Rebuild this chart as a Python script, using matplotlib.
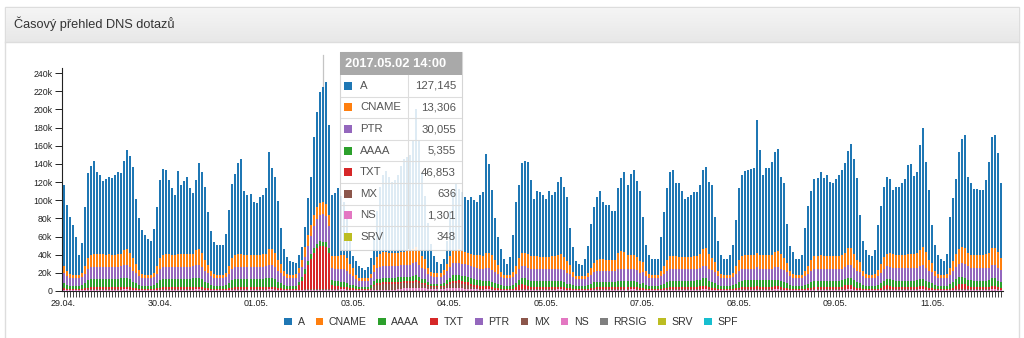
import numpy as np
import pandas as pd
import matplotlib
matplotlib.use("Agg")
import matplotlib.pyplot as plt
from matplotlib.patches import Rectangle, Patch
from matplotlib.lines import Line2D

plt.rcParams['font.family'] = ['Liberation Sans', 'DejaVu Sans']

# Hourly DNS query counts (thousands), 29.04.2017 00:00 .. 11.05.2017 23:00, one row per day
START = "2017-04-29 00:00"

A_QUERIES = [
    89.0, 72.9, 62.0, 55.0, 42.0, 22.0, 32.9, 65.0, 94.2, 97.9, 101.8, 89.8, 87.8, 80.8, 83.8, 84.8, 84.8, 88.8, 90.8, 88.8, 98.2, 109.2, 107.1, 99.9,
    71.0, 56.9, 48.0, 44.0, 39.0, 37.0, 47.9, 66.0, 86.2, 93.9, 92.8, 81.8, 73.8, 66.8, 91.8, 76.8, 80.8, 84.8, 71.8, 66.8, 77.2, 95.2, 89.1, 80.9,
    58.0, 43.9, 35.0, 33.0, 33.0, 33.0, 42.9, 62.0, 82.2, 88.9, 99.8, 103.8, 70.8, 66.8, 67.8, 58.8, 57.8, 63.8, 65.8, 71.8, 107.2, 89.2, 83.1, 64.9,
    39.0, 23.9, 18.0, 15.0, 14.0, 12.5, 14.9, 13.5, 21.2, 39.9, 51.8, 85.8, 104.8, 122.3, 127.145, 134.3, 98.8, 67.8, 69.8, 74.8, 65.7, 58.7, 44.1, 29.9,
    13.0, 15.9, 13.7, 10.7, 8.7, 11.5, 17.2, 29.4, 50.7, 74.4, 85.4, 89.4, 84.4, 78.4, 80.4, 86.1, 95.6, 102.1, 104.1, 106.1, 118.6, 151.6, 120.2, 91.7,
    70.2, 49.3, 30.8, 18.3, 12.3, 10.3, 12.3, 25.2, 49.2, 65.6, 72.6, 66.1, 65.1, 60.6, 58.6, 62.8, 60.1, 58.8, 66.4, 70.6, 109.6, 97.7, 71.6, 46.4,
    30.0, 24.9, 17.0, 12.0, 19.0, 41.5, 70.9, 80.5, 99.2, 100.9, 101.8, 83.8, 62.8, 71.8, 71.8, 68.8, 63.8, 72.8, 67.8, 70.8, 80.7, 84.7, 77.1, 69.9,
    40.0, 26.9, 16.0, 14.0, 13.0, 18.0, 29.9, 49.0, 62.2, 68.9, 74.8, 62.8, 60.8, 60.8, 53.8, 53.8, 70.8, 79.8, 87.8, 77.8, 89.7, 93.7, 84.1, 76.9,
    49.0, 28.9, 21.0, 17.0, 17.0, 17.0, 37.9, 59.0, 79.2, 92.9, 94.8, 80.8, 81.8, 72.8, 63.8, 66.8, 68.8, 70.8, 70.3, 76.8, 87.2, 90.2, 79.6, 80.4,
    49.0, 32.9, 21.0, 17.0, 17.0, 22.0, 30.9, 51.0, 79.2, 89.9, 92.3, 93.3, 94.3, 95.3, 145.8, 115.3, 88.3, 95.3, 95.3, 102.3, 109.7, 111.7, 84.6, 82.4,
    43.0, 27.9, 24.0, 17.0, 17.0, 22.0, 46.9, 66.0, 76.2, 84.9, 85.8, 91.8, 85.8, 89.8, 81.8, 80.8, 84.8, 89.8, 93.3, 98.8, 107.2, 114.2, 104.1, 89.4,
    52.0, 32.9, 26.0, 22.0, 20.0, 26.0, 49.4, 64.5, 77.7, 83.9, 81.3, 70.3, 74.8, 75.8, 79.8, 83.8, 98.8, 99.8, 86.8, 89.3, 115.7, 131.7, 99.6, 76.4,
    42.0, 28.9, 21.0, 17.0, 15.0, 22.0, 56.4, 69.5, 82.2, 106.9, 118.8, 124.8, 82.8, 79.3, 72.8, 72.8, 71.8, 71.8, 81.8, 100.3, 123.2, 124.2, 109.6, 82.4,
]

CNAME_QUERIES = [
    8, 6, 5, 4, 4, 4, 5, 8, 12, 14, 15, 15, 14, 14, 13, 14, 13, 13, 14, 14, 16, 17, 16, 14,
    10, 7, 5, 4, 4, 4, 5, 8, 12, 14, 14, 14, 13, 13, 14, 14, 14, 14, 15, 14, 16, 17, 16, 12,
    9, 6, 5, 4, 4, 4, 5, 8, 12, 14, 15, 15, 13, 13, 13, 13, 13, 13, 14, 14, 17, 17, 16, 12,
    10, 6, 5, 4, 4, 4, 5, 8, 11, 12, 13, 13, 13, 13, 13.306, 13, 13, 13, 14, 14, 15, 15, 14, 11,
    8, 4, 3, 3, 3, 3, 4, 8, 12, 14, 15, 15, 14, 14, 14, 14, 14, 14, 15, 15, 16, 17, 16, 13,
    11, 7, 5, 4, 4, 4, 5, 8, 12, 14, 15, 15, 14, 14, 13, 14, 14, 14, 15, 14, 16, 17, 16, 13,
    10, 6, 4, 4, 4, 5, 8, 12, 14, 15, 15, 14, 14, 14, 13, 13, 13, 13, 14, 14, 15, 16, 15, 13,
    10, 6, 4, 3, 3, 4, 5, 7, 10, 12, 13, 13, 12, 12, 12, 12, 18, 20, 19, 15, 15, 15, 14, 13,
    11, 6, 5, 4, 4, 4, 6, 9, 12, 14, 14, 14, 13, 13, 13, 13, 13, 14, 14, 15, 18, 19, 16, 14,
    11, 6, 5, 4, 4, 4, 5, 8, 12, 14, 15, 15, 15, 15, 16, 15, 15, 15, 15, 15, 17, 18, 16, 14,
    10, 6, 5, 4, 4, 4, 6, 9, 12, 14, 14, 15, 14, 14, 14, 14, 14, 14, 15, 16, 18, 19, 16, 13,
    11, 6, 5, 4, 4, 5, 7, 10, 13, 14, 15, 15, 14, 14, 14, 14, 15, 15, 15, 16, 18, 20, 17, 13,
    10, 6, 5, 4, 4, 5, 8, 11, 14, 16, 17, 17, 15, 14, 14, 14, 14, 14, 15, 16, 18, 19, 17, 14,
]

PTR_QUERIES = [
    11, 10, 9, 9, 9, 9, 9, 10, 12, 13, 13, 13, 13, 13, 13, 13, 13, 13, 13, 13, 14, 14, 13, 12,
    11, 10, 9, 9, 9, 9, 9, 10, 12, 13, 13, 13, 13, 13, 13, 13, 13, 13, 13, 13, 14, 14, 13, 12,
    11, 10, 9, 9, 9, 9, 9, 10, 12, 13, 13, 13, 13, 13, 13, 13, 13, 13, 13, 13, 14, 14, 13, 12,
    11, 10, 9, 9, 9, 9, 10, 11, 14, 17, 20, 24, 27, 29, 30.055, 29, 24, 13, 13, 13, 14, 14, 13, 12,
    10, 8, 7, 7, 7, 7, 8, 10, 12, 13, 13, 13, 13, 13, 13, 13, 13, 13, 13, 13, 14, 14, 13, 12,
    11, 9, 8, 8, 8, 8, 9, 10, 12, 13, 13, 13, 13, 13, 13, 13, 13, 13, 13, 13, 14, 14, 13, 12,
    11, 9, 9, 9, 9, 9, 10, 12, 13, 13, 13, 13, 13, 13, 13, 13, 13, 13, 13, 13, 13, 13, 13, 12,
    11, 9, 8, 8, 8, 8, 9, 10, 11, 12, 12, 12, 12, 12, 12, 12, 13, 13, 13, 13, 13, 13, 13, 12,
    12, 10, 9, 9, 9, 9, 10, 11, 12, 13, 13, 13, 13, 13, 13, 13, 13, 13, 13, 13, 14, 14, 13, 13,
    12, 10, 9, 9, 9, 9, 9, 11, 12, 13, 13, 13, 13, 13, 14, 13, 13, 13, 13, 13, 14, 14, 13, 13,
    12, 10, 9, 9, 9, 9, 10, 11, 12, 13, 13, 13, 13, 13, 13, 13, 13, 13, 13, 13, 14, 14, 13, 12,
    12, 10, 9, 9, 9, 9, 10, 11, 13, 14, 14, 14, 14, 14, 14, 14, 14, 14, 14, 14, 14, 15, 14, 12,
    12, 10, 9, 9, 9, 9, 10, 12, 14, 15, 16, 16, 15, 14, 14, 14, 14, 14, 14, 14, 15, 15, 14, 13,
]

AAAA_QUERIES = [
    6, 4, 3, 3, 3, 3, 4, 6, 8, 9, 9, 9, 9, 9, 9, 9, 9, 9, 9, 10, 10, 10, 9, 7,
    6, 4, 3, 3, 3, 3, 4, 6, 8, 9, 9, 9, 9, 9, 9, 9, 9, 9, 9, 10, 10, 10, 9, 7,
    6, 4, 3, 3, 3, 3, 4, 6, 8, 9, 9, 9, 9, 9, 9, 9, 9, 9, 9, 10, 10, 10, 9, 7,
    6, 4, 3, 3, 3, 3, 4, 5, 5, 5, 5, 5, 5, 5.5, 5.355, 5.5, 5, 6, 6, 6, 6, 6, 5, 4,
    4, 3, 2.5, 2.5, 2.5, 2.5, 3, 4, 5, 5, 5, 5, 5, 5, 5, 5, 5, 5, 5, 5, 5, 5, 5, 4,
    4, 3, 2.5, 2.5, 2.5, 2.5, 3, 4, 5, 6, 6, 6, 6, 6, 6, 6, 6, 6, 6, 6, 6, 6, 6, 5,
    5, 4, 3, 3, 3, 4, 5, 6, 7, 7, 7, 7, 7, 7, 7, 7, 7, 7, 7, 7, 7, 7, 6, 5,
    5, 4, 3, 3, 3, 3, 4, 5, 6, 6, 6, 6, 6, 6, 6, 6, 7, 7, 7, 7, 7, 7, 6, 5,
    6, 4, 3, 3, 3, 3, 4, 5, 6, 7, 7, 7, 7, 7, 7, 7, 7, 7, 7, 7, 8, 8, 7, 6,
    6, 4, 3, 3, 3, 3, 4, 5, 6, 7, 7, 7, 7, 7, 7, 7, 7, 7, 7, 7, 7, 7, 7, 6,
    6, 4, 3, 3, 3, 3, 4, 5, 6, 7, 7, 7, 7, 7, 7, 7, 7, 7, 7, 7, 8, 8, 7, 6,
    6, 4, 3, 3, 3, 3, 4, 5, 6, 7, 7, 7, 7, 7, 7, 7, 7, 7, 7, 7, 8, 8, 7, 6,
    6, 4, 3, 3, 3, 3, 5, 6, 7, 7, 7, 7, 7, 7, 7, 7, 7, 7, 7, 7, 8, 8, 7, 6,
]

TXT_QUERIES = [
    1.5, 1, 1, 1, 1, 1, 1, 1.5, 2, 2, 2, 2, 2, 2, 2, 2, 2, 2, 2, 2, 2.5, 2.5, 2, 1.5,
    1.5, 1, 1, 1, 1, 1, 1, 1.5, 2, 2, 2, 2, 2, 2, 2, 2, 2, 2, 2, 2, 2.5, 2.5, 2, 1.5,
    1.5, 1, 1, 1, 1, 1, 1, 1.5, 2, 2, 2, 2, 2, 2, 2, 2, 2, 2, 2, 2, 2.5, 2.5, 2, 1.5,
    1.5, 1, 1, 1, 1, 1.5, 5, 9, 17, 26, 33, 40, 45, 47, 46.853, 46, 40, 4, 3, 3, 2, 2, 2, 1.5,
    1.5, 1, 0.8, 0.8, 0.8, 0.8, 1, 1.5, 2, 2, 2, 2, 2, 2, 2, 2, 2, 2, 2, 2, 2.5, 2.5, 2, 1.5,
    2, 1.5, 1, 1, 1, 1, 1, 1.5, 2, 2.5, 2.5, 3, 3, 3, 3, 3, 3, 3, 3, 3, 3, 3, 2.5, 2,
    1.5, 1, 1, 1, 1, 1.5, 3, 5, 6, 5, 3, 2, 2, 2, 2, 2, 2, 2, 2, 2, 2, 2, 2, 1.5,
    1.5, 1, 1, 1, 1, 1, 1, 1.5, 2, 2, 2, 2, 2, 2, 2, 2, 2, 2, 2, 2, 2, 2, 2, 1.5,
    1.5, 1, 1, 1, 1, 1, 1, 1.5, 2, 2, 2, 2, 2, 2, 2, 2, 2, 2, 2.5, 3, 3.5, 3.5, 2.5, 2,
    1.5, 1, 1, 1, 1, 1, 1, 1.5, 2, 2, 2.5, 2.5, 2.5, 2.5, 3, 2.5, 2.5, 2.5, 2.5, 2.5, 3, 3, 2.5, 2,
    1.5, 1, 1, 1, 1, 1, 1, 1.5, 2, 2, 2, 2, 2, 2, 2, 2, 2, 2, 2.5, 4, 4.5, 4.5, 3, 2,
    1.5, 1, 1, 1, 1, 1, 1.5, 2, 3.5, 4, 3.5, 2.5, 2, 2, 2, 2, 2, 2, 2, 2.5, 3, 3, 2.5, 2,
    1.5, 1, 1, 1, 1, 1, 1.5, 2, 4, 6, 6, 5, 3, 2.5, 2, 2, 2, 2, 2, 2.5, 3.5, 3.5, 2.5, 2,
]

MX_QUERIES = [
    0.4, 0.3, 0.3, 0.3, 0.3, 0.3, 0.3, 0.4, 0.5, 0.6, 0.6, 0.6, 0.6, 0.6, 0.6, 0.6, 0.6, 0.6, 0.6, 0.6, 0.6, 0.6, 0.5, 0.4,
    0.4, 0.3, 0.3, 0.3, 0.3, 0.3, 0.3, 0.4, 0.5, 0.6, 0.6, 0.6, 0.6, 0.6, 0.6, 0.6, 0.6, 0.6, 0.6, 0.6, 0.6, 0.6, 0.5, 0.4,
    0.4, 0.3, 0.3, 0.3, 0.3, 0.3, 0.3, 0.4, 0.5, 0.6, 0.6, 0.6, 0.6, 0.6, 0.6, 0.6, 0.6, 0.6, 0.6, 0.6, 0.6, 0.6, 0.5, 0.4,
    0.4, 0.3, 0.3, 0.3, 0.3, 0.3, 0.3, 0.4, 0.5, 0.6, 0.6, 0.6, 0.6, 0.6, 0.636, 0.6, 0.6, 0.6, 0.6, 0.6, 0.6, 0.6, 0.5, 0.4,
    0.4, 0.3, 0.3, 0.3, 0.3, 0.5, 2, 4, 5, 5, 6, 6, 6, 6, 6, 6, 6, 6, 6, 6, 6, 7, 6, 5,
    4, 3, 2.5, 2, 2, 2, 2.5, 3.5, 5, 6, 6, 6, 5, 5, 4, 3, 2, 1.5, 1, 0.8, 0.7, 0.6, 0.5, 0.4,
    0.4, 0.3, 0.3, 0.3, 0.3, 0.3, 0.3, 0.4, 0.5, 0.6, 0.6, 0.6, 0.6, 0.6, 0.6, 0.6, 0.6, 0.6, 0.6, 0.6, 0.6, 0.6, 0.5, 0.4,
    0.4, 0.3, 0.3, 0.3, 0.3, 0.3, 0.3, 0.4, 0.5, 0.6, 0.6, 0.6, 0.6, 0.6, 0.6, 0.6, 0.6, 0.6, 0.6, 0.6, 0.6, 0.6, 0.5, 0.4,
    0.4, 0.3, 0.3, 0.3, 0.3, 0.3, 0.3, 0.4, 0.5, 0.6, 0.6, 0.6, 0.6, 0.6, 0.6, 0.6, 0.6, 0.6, 0.6, 0.6, 0.6, 0.6, 0.5, 0.4,
    0.4, 0.3, 0.3, 0.3, 0.3, 0.3, 0.3, 0.4, 0.5, 0.6, 0.6, 0.6, 0.6, 0.6, 0.6, 0.6, 0.6, 0.6, 0.6, 0.6, 0.6, 0.6, 0.5, 0.4,
    0.4, 0.3, 0.3, 0.3, 0.3, 0.3, 0.3, 0.4, 0.5, 0.6, 0.6, 0.6, 0.6, 0.6, 0.6, 0.6, 0.6, 0.6, 0.6, 0.6, 0.6, 0.6, 0.5, 0.4,
    0.4, 0.3, 0.3, 0.3, 0.3, 0.3, 0.3, 0.4, 0.5, 0.6, 0.6, 0.6, 0.6, 0.6, 0.6, 0.6, 0.6, 0.6, 0.6, 0.6, 0.6, 0.6, 0.5, 0.4,
    0.4, 0.3, 0.3, 0.3, 0.3, 0.3, 0.3, 0.4, 0.5, 0.6, 0.6, 0.6, 0.6, 0.6, 0.6, 0.6, 0.6, 0.6, 0.6, 0.6, 0.6, 0.6, 0.5, 0.4,
]

NS_QUERIES = [
    0.8, 0.6, 0.5, 0.5, 0.5, 0.5, 0.6, 0.8, 1.0, 1.1, 1.2, 1.2, 1.2, 1.2, 1.2, 1.2, 1.2, 1.2, 1.2, 1.2, 1.3, 1.3, 1.1, 0.9,
    0.8, 0.6, 0.5, 0.5, 0.5, 0.5, 0.6, 0.8, 1.0, 1.1, 1.2, 1.2, 1.2, 1.2, 1.2, 1.2, 1.2, 1.2, 1.2, 1.2, 1.3, 1.3, 1.1, 0.9,
    0.8, 0.6, 0.5, 0.5, 0.5, 0.5, 0.6, 0.8, 1.0, 1.1, 1.2, 1.2, 1.2, 1.2, 1.2, 1.2, 1.2, 1.2, 1.2, 1.2, 1.3, 1.3, 1.1, 0.9,
    0.8, 0.6, 0.5, 0.5, 0.5, 0.5, 0.6, 0.8, 1.0, 1.1, 1.2, 1.2, 1.2, 1.2, 1.301, 1.2, 1.2, 1.2, 1.2, 1.2, 1.3, 1.3, 1.1, 0.9,
    0.8, 0.6, 0.5, 0.5, 0.5, 0.5, 0.6, 0.8, 1.0, 1.2, 1.2, 1.2, 1.2, 1.2, 1.2, 1.5, 2, 2.5, 2.5, 2.5, 2.5, 2.5, 2.5, 2.5,
    2.5, 2, 2, 2, 2, 2, 2, 2.5, 2.5, 2.5, 2.5, 2.5, 2.5, 2, 2, 1.8, 1.5, 1.3, 1.2, 1.2, 1.3, 1.3, 1.1, 0.9,
    0.8, 0.6, 0.5, 0.5, 0.5, 0.5, 0.6, 0.8, 1.0, 1.1, 1.2, 1.2, 1.2, 1.2, 1.2, 1.2, 1.2, 1.2, 1.2, 1.2, 1.3, 1.3, 1.1, 0.9,
    0.8, 0.6, 0.5, 0.5, 0.5, 0.5, 0.6, 0.8, 1.0, 1.1, 1.2, 1.2, 1.2, 1.2, 1.2, 1.2, 1.2, 1.2, 1.2, 1.2, 1.3, 1.3, 1.1, 0.9,
    0.8, 0.6, 0.5, 0.5, 0.5, 0.5, 0.6, 0.8, 1.0, 1.1, 1.2, 1.2, 1.2, 1.2, 1.2, 1.2, 1.2, 1.2, 1.2, 1.2, 1.3, 1.3, 1.1, 0.9,
    0.8, 0.6, 0.5, 0.5, 0.5, 0.5, 0.6, 0.8, 1.0, 1.1, 1.2, 1.2, 1.2, 1.2, 1.2, 1.2, 1.2, 1.2, 1.2, 1.2, 1.3, 1.3, 1.1, 0.9,
    0.8, 0.6, 0.5, 0.5, 0.5, 0.5, 0.6, 0.8, 1.0, 1.1, 1.2, 1.2, 1.2, 1.2, 1.2, 1.2, 1.2, 1.2, 1.2, 1.2, 1.3, 1.3, 1.1, 0.9,
    0.8, 0.6, 0.5, 0.5, 0.5, 0.5, 0.6, 0.8, 1.0, 1.1, 1.2, 1.2, 1.2, 1.2, 1.2, 1.2, 1.2, 1.2, 1.2, 1.2, 1.3, 1.3, 1.1, 0.9,
    0.8, 0.6, 0.5, 0.5, 0.5, 0.5, 0.6, 0.8, 1.0, 1.1, 1.2, 1.2, 1.2, 1.2, 1.2, 1.2, 1.2, 1.2, 1.2, 1.2, 1.3, 1.3, 1.1, 0.9,
]

SRV_QUERIES = [
    0.3, 0.2, 0.2, 0.2, 0.2, 0.2, 0.2, 0.3, 0.3, 0.4, 0.4, 0.4, 0.4, 0.4, 0.4, 0.4, 0.4, 0.4, 0.4, 0.4, 0.4, 0.4, 0.3, 0.3,
    0.3, 0.2, 0.2, 0.2, 0.2, 0.2, 0.2, 0.3, 0.3, 0.4, 0.4, 0.4, 0.4, 0.4, 0.4, 0.4, 0.4, 0.4, 0.4, 0.4, 0.4, 0.4, 0.3, 0.3,
    0.3, 0.2, 0.2, 0.2, 0.2, 0.2, 0.2, 0.3, 0.3, 0.4, 0.4, 0.4, 0.4, 0.4, 0.4, 0.4, 0.4, 0.4, 0.4, 0.4, 0.4, 0.4, 0.3, 0.3,
    0.3, 0.2, 0.2, 0.2, 0.2, 0.2, 0.2, 0.3, 0.3, 0.4, 0.4, 0.4, 0.4, 0.4, 0.348, 0.4, 0.4, 0.4, 0.4, 0.4, 0.4, 0.4, 0.3, 0.3,
    0.3, 0.2, 0.2, 0.2, 0.2, 0.2, 0.2, 0.3, 0.3, 0.4, 0.4, 0.4, 0.4, 0.4, 0.4, 0.4, 0.4, 0.4, 0.4, 0.4, 0.4, 0.4, 0.3, 0.3,
    0.3, 0.2, 0.2, 0.2, 0.2, 0.2, 0.2, 0.3, 0.3, 0.4, 0.4, 0.4, 0.4, 0.4, 0.4, 0.4, 0.4, 0.4, 0.4, 0.4, 0.4, 0.4, 0.3, 0.3,
    0.3, 0.2, 0.2, 0.2, 0.2, 0.2, 0.2, 0.3, 0.3, 0.4, 0.4, 0.4, 0.4, 0.4, 0.4, 0.4, 0.4, 0.4, 0.4, 0.4, 0.4, 0.4, 0.3, 0.3,
    0.3, 0.2, 0.2, 0.2, 0.2, 0.2, 0.2, 0.3, 0.3, 0.4, 0.4, 0.4, 0.4, 0.4, 0.4, 0.4, 0.4, 0.4, 0.4, 0.4, 0.4, 0.4, 0.3, 0.3,
    0.3, 0.2, 0.2, 0.2, 0.2, 0.2, 0.2, 0.3, 0.3, 0.4, 0.4, 0.4, 0.4, 0.4, 0.4, 0.4, 0.4, 0.4, 0.4, 0.4, 0.4, 0.4, 0.3, 0.3,
    0.3, 0.2, 0.2, 0.2, 0.2, 0.2, 0.2, 0.3, 0.3, 0.4, 0.4, 0.4, 0.4, 0.4, 0.4, 0.4, 0.4, 0.4, 0.4, 0.4, 0.4, 0.4, 0.3, 0.3,
    0.3, 0.2, 0.2, 0.2, 0.2, 0.2, 0.2, 0.3, 0.3, 0.4, 0.4, 0.4, 0.4, 0.4, 0.4, 0.4, 0.4, 0.4, 0.4, 0.4, 0.4, 0.4, 0.3, 0.3,
    0.3, 0.2, 0.2, 0.2, 0.2, 0.2, 0.2, 0.3, 0.3, 0.4, 0.4, 0.4, 0.4, 0.4, 0.4, 0.4, 0.4, 0.4, 0.4, 0.4, 0.4, 0.4, 0.3, 0.3,
    0.3, 0.2, 0.2, 0.2, 0.2, 0.2, 0.2, 0.3, 0.3, 0.4, 0.4, 0.4, 0.4, 0.4, 0.4, 0.4, 0.4, 0.4, 0.4, 0.4, 0.4, 0.4, 0.3, 0.3,
]

RECORD_TYPES = ["A", "CNAME", "AAAA", "TXT", "PTR", "MX", "NS", "RRSIG", "SRV", "SPF"]
TYPE_COLORS = {
    "A": "#1f77b4", "CNAME": "#ff7f0e", "AAAA": "#2ca02c", "TXT": "#d62728",
    "PTR": "#9467bd", "MX": "#8c564b", "NS": "#e377c2", "RRSIG": "#7f7f7f",
    "SRV": "#bcbd22", "SPF": "#17becf",
}
SERIES = {
    "A": A_QUERIES, "CNAME": CNAME_QUERIES, "PTR": PTR_QUERIES, "AAAA": AAAA_QUERIES,
    "TXT": TXT_QUERIES, "MX": MX_QUERIES, "NS": NS_QUERIES, "SRV": SRV_QUERIES,
}
STACK_ORDER = ["SRV", "NS", "MX", "TXT", "AAAA", "PTR", "CNAME", "A"]   # bottom -> top
HOVER_INDEX = 86                                                      # highlighted hour
LABEL_EVERY = 32

times = pd.date_range(START, periods=len(A_QUERIES), freq="h")
n = len(times)
x = np.arange(n)

W, H = 1024, 338
fig = plt.figure(figsize=(W / 100, H / 100), dpi=100)
fig.patch.set_facecolor("white")


def fx(px):
    return px / W


def fy(py):
    return 1 - py / H


# ---- panel frame and heading ----
panel = Rectangle((fx(5), fy(345)), fx(1014), (345 - 7) / H, transform=fig.transFigure,
                  facecolor="white", edgecolor="#dddddd", lw=1.0, zorder=-5)
fig.add_artist(panel)
head_ax = fig.add_axes([fx(5.5), fy(42), fx(1013), (42 - 7.5) / H], zorder=-4)
grad = np.linspace(0, 1, 64).reshape(-1, 1)
head_ax.imshow(grad, aspect="auto", cmap=matplotlib.colors.LinearSegmentedColormap.from_list(
    "hd", ["#f5f5f5", "#e8e8e8"]), extent=(0, 1, 0, 1))
head_ax.set_axis_off()
fig.add_artist(Line2D([fx(5), fx(1019)], [fy(42), fy(42)], transform=fig.transFigure,
                      color="#dddddd", lw=1.0))
fig.text(fx(14), fy(24), "Časový přehled DNS dotazů", fontsize=9.2, color="#333333",
         va="center", ha="left")

# ---- stacked bars ----
ymax = 246
plot_left, plot_right = 62, 1003
ax = fig.add_axes([fx(plot_left), fy(291), fx(plot_right - plot_left), (291 - 67.6) / H])
bar_w = 2.0 / ((plot_right - plot_left) / n)     # two pixels per bar
bottom = np.zeros(n)
for name in STACK_ORDER:
    vals = np.array(SERIES[name], dtype=float)
    ax.bar(x, vals, width=bar_w, bottom=bottom, color=TYPE_COLORS[name], linewidth=0,
           antialiased=False, zorder=2)
    bottom += vals

ax.set_xlim(-0.5, n - 0.5)
ax.set_ylim(0, ymax)
ax.set_facecolor("none")
for s in ("top", "right"):
    ax.spines[s].set_visible(False)
for s in ("left", "bottom"):
    ax.spines[s].set_color("#222222")
    ax.spines[s].set_linewidth(0.8)

yt = list(range(0, 241, 20))
ax.set_yticks(yt)
ax.set_yticklabels(["0" if v == 0 else f"{v}k" for v in yt])
ax.tick_params(axis="y", length=5, width=0.7, colors="#222222", labelsize=6.3, pad=2)

major = np.arange(0, n, LABEL_EVERY)
ax.set_xticks(major)
ax.set_xticklabels([times[i].strftime("%d.%m.") for i in major])
ax.set_xticks(x, minor=True)
ax.tick_params(axis="x", which="both", length=4, width=0.6, colors="#222222",
               labelsize=6.5, pad=1.5)

# crosshair at the highlighted hour
ax.axvline(HOVER_INDEX, ymin=0, ymax=(291 - 55) / (291 - 67.6), color="#c4c4c4", lw=0.9,
           clip_on=False, zorder=1)

# ---- hover tooltip ----
tip_left, tip_right, tip_top, tip_bot = 340, 462, 52, 250
row_h = 21.6
head_bot = 75
fig.add_artist(Rectangle((fx(tip_left), fy(tip_bot)), fx(tip_right - tip_left),
                         (tip_bot - tip_top) / H, transform=fig.transFigure,
                         facecolor="white", alpha=0.86, edgecolor="#cfcfcf", lw=0.8, zorder=10))
fig.add_artist(Rectangle((fx(tip_left), fy(head_bot)), fx(tip_right - tip_left),
                         (head_bot - tip_top) / H, transform=fig.transFigure,
                         facecolor="#a9a9a9", edgecolor="none", zorder=11))
fig.text(fx(345), fy(64), times[HOVER_INDEX].strftime("%Y.%m.%d %H:%M"), color="white",
         fontsize=9.3, fontweight="bold", va="center", ha="left", zorder=12)

tip_rows = ["A", "CNAME", "PTR", "AAAA", "TXT", "MX", "NS", "SRV"]
for k, name in enumerate(tip_rows):
    yc = head_bot + row_h * (k + 0.5)
    fig.add_artist(Rectangle((fx(344), fy(yc + 4)), fx(8), 8 / H, transform=fig.transFigure,
                             facecolor=TYPE_COLORS[name], edgecolor="none", zorder=12))
    fig.text(fx(360), fy(yc), name, fontsize=8.2, color="#555555", va="center", ha="left",
             zorder=12)
    val = int(round(SERIES[name][HOVER_INDEX] * 1000))
    fig.text(fx(456), fy(yc), f"{val:,}", fontsize=8.2, color="#555555", va="center",
             ha="right", zorder=12)
    if k < len(tip_rows) - 1:
        yl = head_bot + row_h * (k + 1)
        fig.add_artist(Line2D([fx(tip_left + 1), fx(tip_right - 1)], [fy(yl), fy(yl)],
                              transform=fig.transFigure, color="#dddddd", lw=0.8, zorder=12))
fig.add_artist(Line2D([fx(408), fx(408)], [fy(head_bot), fy(head_bot + row_h * len(tip_rows))],
                      transform=fig.transFigure, color="#dddddd", lw=0.8, zorder=12))

# ---- legend ----
handles = [Patch(facecolor=TYPE_COLORS[t], edgecolor="none") for t in RECORD_TYPES]
leg = fig.legend(handles, RECORD_TYPES, loc="center", bbox_to_anchor=(fx(511), fy(322)),
                 ncol=len(RECORD_TYPES), frameon=False, fontsize=7.6, handlelength=0.72,
                 handleheight=0.72, handletextpad=0.55, columnspacing=1.05, borderaxespad=0,
                 borderpad=0)
for t in leg.get_texts():
    t.set_color("#333333")

fig.savefig("out.png", dpi=100)
